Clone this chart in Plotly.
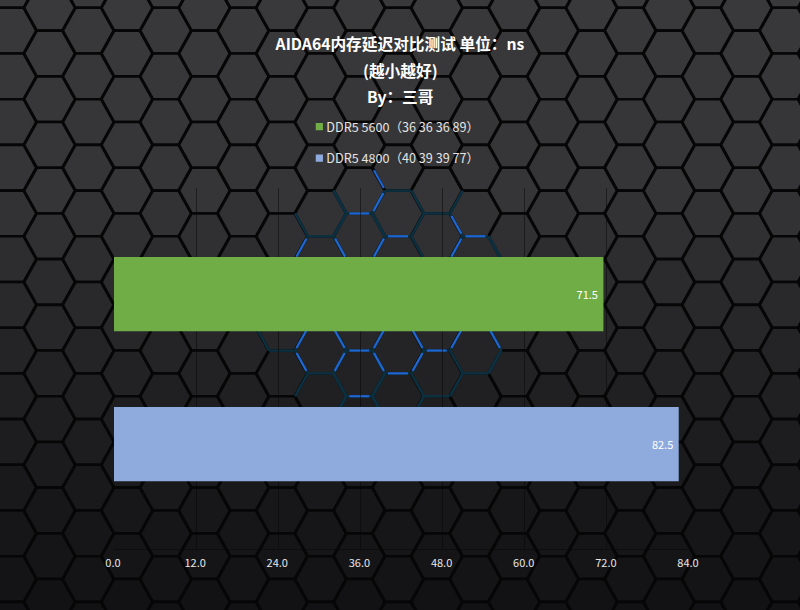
import math
import plotly.graph_objects as go

# ---- chart data ----
series_names = ["DDR5 5600（36 36 36 89）", "DDR5 4800（40 39 39 77）"]
series_values = [71.5, 82.5]
series_colors = ["#70ad47", "#8faadc"]
tick_values = [0, 12, 24, 36, 48, 60, 72, 84]
title_lines = ["AIDA64内存延迟对比测试 单位：ns", "(越小越好)", "By：三哥"]

W, H = 800, 610
M_L, M_R, M_T, M_B = 113.5, 111, 188, 61
PLOT_W, PLOT_H = W - M_L - M_R, H - M_T - M_B
FONT = "Noto Sans CJK SC"

# ---- decorative hexagon backdrop ----
HEX_R, COL_STEP, ROW_STEP = 25.5, 38.75, 45.7
HEX_HALF_H = ROW_STEP / 2
ORIGIN_X, ORIGIN_Y = 49.0, 53.5
GLOW_CENTER, GLOW_RADII = (385, 300), (135, 118)
BRIGHT_MIDPOINTS = [
    (362, 213), (378, 204), (380, 247), (398, 236), (475, 236), (460, 230), (460, 242),
    (306, 242), (340, 248), (380, 182), (302, 340), (338, 337), (363, 351), (379, 341),
    (379, 363), (398, 374), (418, 340), (436, 350), (420, 360), (457, 340), (497, 340),
    (338, 366), (300, 361), (350, 397),
]


def bg_level(y):
    stops = [(0, 58), (190, 54), (300, 42), (400, 33), (500, 25), (610, 19)]
    for (y0, a), (y1, b) in zip(stops, stops[1:]):
        if y <= y1:
            return a + (b - a) * (y - y0) / (y1 - y0)
    return stops[-1][1]


def hex_color(y):
    v = max(0, bg_level(y))
    return f"rgb({round(v - 1)},{round(v - 1)},{round(v + 1)})"


def px(x):
    return (x - M_L) / PLOT_W


def py(y):
    return (H - M_B - y) / PLOT_H


def hex_vertices(cx, cy):
    return [(cx + HEX_R, cy), (cx + HEX_R / 2, cy - HEX_HALF_H), (cx - HEX_R / 2, cy - HEX_HALF_H),
            (cx - HEX_R, cy), (cx - HEX_R / 2, cy + HEX_HALF_H), (cx + HEX_R / 2, cy + HEX_HALF_H)]


shapes = []
edges = {}
for col in range(-2, 22):
    for row in range(-2, 15):
        cx = ORIGIN_X + col * COL_STEP
        cy = ORIGIN_Y + row * ROW_STEP + (ROW_STEP / 2 if col % 2 else 0)
        vs = hex_vertices(cx, cy)
        path = "M" + "L".join(f"{px(a):.5f},{py(b):.5f}" for a, b in vs) + "Z"
        shapes.append(dict(type="path", path=path, xref="paper", yref="paper", layer="below",
                           fillcolor=hex_color(cy), line=dict(color="#060606", width=2.6)))
        for k in range(6):
            a, b = vs[k], vs[(k + 1) % 6]
            key = (round((a[0] + b[0]) / 2), round((a[1] + b[1]) / 2))
            edges[key] = (a, b)


def edge_shape(a, b, color, width, keep=1.0):
    ax = a[0] + (b[0] - a[0]) * (1 - keep) / 2
    ay = a[1] + (b[1] - a[1]) * (1 - keep) / 2
    bx = b[0] - (b[0] - a[0]) * (1 - keep) / 2
    by = b[1] - (b[1] - a[1]) * (1 - keep) / 2
    return dict(type="line", x0=px(ax), y0=py(ay), x1=px(bx), y1=py(by), xref="paper",
                yref="paper", layer="below", line=dict(color=color, width=width))


for (mx, my), (a, b) in edges.items():
    d = ((mx - GLOW_CENTER[0]) / GLOW_RADII[0]) ** 2 + ((my - GLOW_CENTER[1]) / GLOW_RADII[1]) ** 2
    if d < 1:
        shapes.append(edge_shape(a, b, "#0d3040", 2.6))

for mx, my in BRIGHT_MIDPOINTS:
    key = min(edges, key=lambda e: (e[0] - mx) ** 2 + (e[1] - my) ** 2)
    a, b = edges[key]
    shapes.append(edge_shape(a, b, "#1f66d4", 2.2, keep=0.78))

# ---- chart ----
fig = go.Figure()
for name, value, color in zip(series_names, series_values, series_colors):
    fig.add_trace(go.Bar(
        x=[value], y=[name], name=name, orientation="h", width=0.495, legendgroup=name,
        marker=dict(color=color, line=dict(width=0)),
        text=[f"{value:.1f}&nbsp;"], textposition="inside", insidetextanchor="end",
        textangle=0, textfont=dict(color="#ffffff", size=11, family=FONT),
        hoverinfo="x+y", cliponaxis=False,
    ))

annotations = [
    dict(text=f"<b>{line}</b>", x=px(W / 2), y=py(yy), xref="paper", yref="paper", showarrow=False,
         xanchor="center", yanchor="middle", font=dict(size=15.7, color="#ffffff", family=FONT))
    for line, yy in zip(title_lines[1:], [70, 96])
]

fig.update_layout(
    width=W, height=H,
    margin=dict(l=M_L, r=M_R, t=M_T, b=M_B),
    paper_bgcolor="#1e1e20", plot_bgcolor="rgba(0,0,0,0)",
    title=dict(text=f"<b>{title_lines[0]}</b>", x=0.5, xanchor="center", y=1 - 45 / H, yanchor="middle",
               font=dict(size=15.7, color="#ffffff", family=FONT)),
    font=dict(family=FONT, color="#e8e8e8", size=11),
    shapes=shapes, annotations=annotations, showlegend=True, barmode="overlay",
    legend=dict(x=px(286), y=py(112), xanchor="left", yanchor="top", orientation="v",
                bgcolor="rgba(0,0,0,0)", traceorder="grouped", tracegroupgap=12,
                font=dict(size=12.6, color="#e4e4e4", family=FONT)),
    xaxis=dict(range=[0, 84], tickvals=tick_values, ticktext=[f"{v:.1f}" for v in tick_values],
               showgrid=True, gridcolor="rgba(5,5,5,0.5)", gridwidth=1, zeroline=False,
               showline=True, linecolor="rgba(5,5,5,0.5)", linewidth=1, ticks="", ticklen=0,
               ticklabelstandoff=4, ticklabelshift=-1,
               tickfont=dict(size=11, color="#e8e8e8", family=FONT)),
    yaxis=dict(type="category", categoryorder="array", categoryarray=series_names[::-1],
               range=[-0.7, 1.707], showticklabels=False, showgrid=False, zeroline=False,
               showline=False, ticks=""),
)
post = """document.body.style.margin='0';
document.querySelectorAll('.legend .legendpoints').forEach(function(p){
  p.setAttribute('transform', (p.getAttribute('transform')||'') + ' translate(21,0) scale(0.6)');
});"""
fig.write_html("out.html", post_script=post, config={"displayModeBar": False})
